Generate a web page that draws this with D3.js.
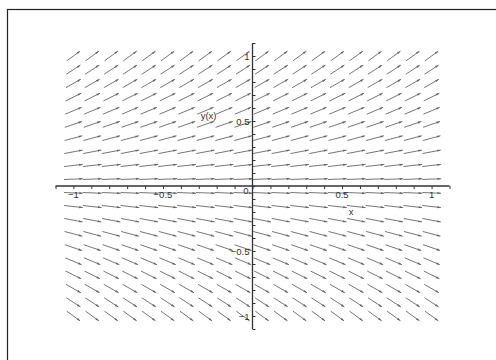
<!DOCTYPE html>
<html>
<head>
<meta charset="utf-8">
<script src="https://cdn.jsdelivr.net/npm/d3@7"></script>
<style>
  html, body { margin: 0; padding: 0; background: #fff; }
  svg { display: block; }
  text { font-family: "Liberation Sans", Arial, Helvetica, sans-serif; fill: #333; }
</style>
</head>
<body>
<svg id="chart" width="496" height="360"></svg>
<script>
// Direction field of dy/dx = y on a 20 x 20 grid
const gridX = [-1, -0.895, -0.789, -0.684, -0.579, -0.474, -0.368, -0.263, -0.158, -0.053,
               0.053, 0.158, 0.263, 0.368, 0.474, 0.579, 0.684, 0.789, 0.895, 1];
const gridY = [-1, -0.895, -0.789, -0.684, -0.579, -0.474, -0.368, -0.263, -0.158, -0.053,
               0.053, 0.158, 0.263, 0.368, 0.474, 0.579, 0.684, 0.789, 0.895, 1];
const slope = (x, y) => y;           // right-hand side of the ODE
const arrowLen = 2 / 19;             // arrow length in data units

const xDomain = [-1.1, 1.1];
const yDomain = [-1.1, 1.1];
const minorTicks = d3.range(-11, 12).map(d => d / 10);
const xTickLabels = [
  { v: -1, t: "\u22121" }, { v: -0.5, t: "\u22120.5" },
  { v: 0.5, t: "0.5" }, { v: 1, t: "1" }
];
const yTickLabels = [
  { v: 1, t: "1" }, { v: 0.5, t: "0.5" },
  { v: -0.5, t: "\u22120.5" }, { v: -1, t: "\u22121" }
];

const svg = d3.select("#chart");

// outer frame
svg.append("rect")
  .attr("x", 7.5).attr("y", 9.5)
  .attr("width", 520).attr("height", 380)
  .attr("fill", "none").attr("stroke", "#222").attr("stroke-width", 1.2);

const x = d3.scaleLinear().domain(xDomain).range([55.5, 449.5]);
const y = d3.scaleLinear().domain(yDomain).range([329, 43]);

// arrows
const cells = [];
gridX.forEach(gx => gridY.forEach(gy => cells.push({ gx, gy })));

const arrowColor = "#666";
const field = svg.append("g").attr("class", "field");
cells.forEach(c => {
  const m = slope(c.gx, c.gy);
  const n = Math.sqrt(1 + m * m);
  const dx = arrowLen / n / 2, dy = arrowLen * m / n / 2;
  const x0 = x(c.gx - dx), y0 = y(c.gy - dy);
  const x1 = x(c.gx + dx), y1 = y(c.gy + dy);
  field.append("line")
    .attr("x1", x0).attr("y1", y0).attr("x2", x1).attr("y2", y1)
    .attr("stroke", arrowColor).attr("stroke-width", 0.9);
  // arrow head
  const ang = Math.atan2(y1 - y0, x1 - x0);
  const hl = 3.5, hw = 1.1;
  const bx = x1 - hl * Math.cos(ang), by = y1 - hl * Math.sin(ang);
  const px = -Math.sin(ang) * hw, py = Math.cos(ang) * hw;
  field.append("path")
    .attr("d", `M${x1},${y1}L${bx + px},${by + py}L${bx - px},${by - py}Z`)
    .attr("fill", arrowColor).attr("stroke", "none");
});

// axes through the origin
const axisColor = "#333";
const xAxis = d3.axisBottom(x).tickValues(minorTicks).tickSize(3).tickFormat("");
const gx = svg.append("g").attr("transform", `translate(0,${y(0)})`).call(xAxis);
const yAxis = d3.axisRight(y).tickValues(minorTicks).tickSize(3).tickFormat("");
const gy = svg.append("g").attr("transform", `translate(${x(0)},0)`).call(yAxis);
[gx, gy].forEach(g => {
  g.select(".domain").attr("stroke", axisColor).attr("stroke-width", 1.3);
  g.selectAll(".tick line").attr("stroke", axisColor);
});
gx.select(".domain").attr("d", `M${x(xDomain[0])},0H${x(xDomain[1])}`);
gy.select(".domain").attr("d", `M0,${y(yDomain[1])}V${y(yDomain[0])}`);

// tick labels
svg.selectAll(".xl").data(xTickLabels).join("text")
  .attr("class", "xl")
  .attr("x", d => x(d.v)).attr("y", y(0) + 12)
  .attr("text-anchor", "middle").attr("font-size", 9.5)
  .text(d => d.t);
svg.selectAll(".yl").data(yTickLabels).join("text")
  .attr("class", "yl")
  .attr("x", x(0) - 3).attr("y", d => y(d.v) + 3.5)
  .attr("text-anchor", "end").attr("font-size", 9.5)
  .text(d => d.t);
svg.append("text")
  .attr("x", x(0) - 4).attr("y", y(0) + 8)
  .attr("text-anchor", "end").attr("font-size", 9.5)
  .text("0");

// axis titles
svg.append("text")
  .attr("x", x(0.55)).attr("y", y(0) + 29)
  .attr("text-anchor", "middle").attr("font-size", 9.5)
  .text("x");
svg.append("text")
  .attr("x", x(-0.245)).attr("y", y(0.54) + 3.5)
  .attr("text-anchor", "middle").attr("font-size", 9.5)
  .text("y(x)");
</script>
</body>
</html>
